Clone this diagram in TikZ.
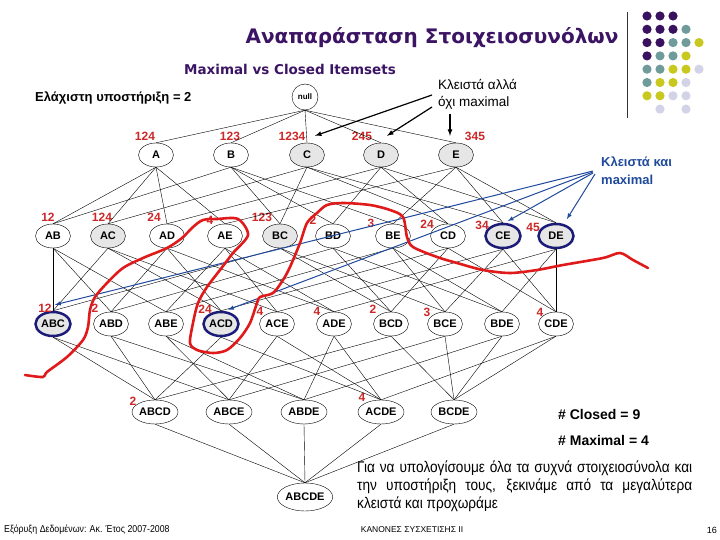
\documentclass[tikz,border=0pt]{standalone}
\usepackage{fontspec}
\setmainfont{Liberation Sans}
\newfontfamily\titlefont{DejaVu Sans}
\newfontfamily\narrowfont[FakeStretch=0.88]{Liberation Sans}
\usetikzlibrary{arrows, shapes.geometric, calc}

\definecolor{titlepurple}{HTML}{3C1464}
\definecolor{tidred}{HTML}{CC2828}
\definecolor{borderred}{HTML}{E01A1A}
\definecolor{maxblue}{HTML}{1C1C78}
\definecolor{noteblue}{HTML}{1F4A9C}
\definecolor{closedgray}{HTML}{E6E6E6}
\definecolor{dotP}{HTML}{3A1160}
\definecolor{dotT}{HTML}{6F9B9B}
\definecolor{dotY}{HTML}{C8C81E}
\definecolor{dotL}{HTML}{D3D3E8}
\definecolor{dotW}{HTML}{FFFFFF}

\begin{document}
\begin{tikzpicture}[
  x=1pt, y=-1pt, > = latex, label distance=2pt,
  set/.style = {draw, ellipse, fill=white, inner sep=0pt, minimum width=35pt, minimum height=24pt,
                font=\bfseries\fontsize{11}{11}\selectfont},
  big/.style = {minimum width=46pt},
  closed/.style = {fill=closedgray},
  maximal/.style = {closed, draw=maxblue, line width=2.5pt},
  tid/.style n args = {3}{label={[text=tidred, inner sep=0pt, xshift=#2, yshift=#3,
                font=\bfseries\fontsize{12}{12}\selectfont]above:#1}},
  note/.style = {inner sep=0pt, anchor=west, align=left},
  pointer/.style = {->, line width=1.2pt},
  bluepointer/.style = {->, noteblue, line width=1pt}
  ]
  \useasboundingbox (0,0) rectangle (720,540);

  % heading and corner dots
  \node[text=titlepurple, font=\titlefont\bfseries\fontsize{20}{20}\selectfont] (title) at (432,38) {Αναπαράσταση Στοιχειοσυνόλων};
  \node[text=titlepurple, font=\titlefont\bfseries\fontsize{13.5}{13.5}\selectfont] (subtitle) at (290,69) {Maximal vs Closed Itemsets};
  \draw[black!80, line width=0.8pt] (627,12) -- (627,118);
  \foreach \row [count=\r from 0] in {{P,P,P},{P,P,P,T},{P,P,T,T,Y},{P,T,T,Y},{T,T,Y,Y,L},{T,Y,Y,L},{Y,Y,L,L},{W,L,W,L}}
    \foreach \c [count=\k from 0] in \row
      \fill[dot\c] (647+13*\k,16+13.3*\r) circle (4.6);

  \node[note, font=\bfseries\fontsize{13}{13}\selectfont] (minsup) at (35,98) {Ελάχιστη υποστήριξη = 2};

  % lattice
  \node[draw, circle, inner sep=0pt, minimum size=26pt, font=\bfseries\fontsize{8}{8}\selectfont] (empty) at (305,97) {null};

  \node[set, tid={124}{-11}{0}] (A) at (156,155) {A};
  \node[set, tid={123}{-1}{0}] (B) at (231,155) {B};
  \node[set, closed, tid={1234}{-15}{0}] (C) at (307,155) {C};
  \node[set, closed, tid={245}{-19}{0}] (D) at (381,155) {D};
  \node[set, closed, tid={345}{19}{0}] (E) at (456,155) {E};

  \node[set, tid={12}{-5}{0}] (AB) at (53,236) {AB};
  \node[set, closed, tid={124}{-6}{0}] (AC) at (108,236) {AC};
  \node[set, tid={24}{-13}{0}] (AD) at (167,236) {AD};
  \node[set, tid={4}{-15}{-3}] (AE) at (225,236) {AE};
  \node[set, closed, tid={123}{-18}{0}] (BC) at (280,236) {BC};
  \node[set, tid={2}{-20}{-3}] (BD) at (333,236) {BD};
  \node[set, tid={3}{-22}{-6}] (BE) at (393,236) {BE};
  \node[set, tid={24}{-21}{-7}] (CD) at (448,236) {CD};
  \node[set, maximal, tid={34}{-21}{-9}] (CE) at (503,236) {CE};
  \node[set, maximal, tid={45}{-23}{-11}] (DE) at (556,236) {DE};

  \node[set, maximal, tid={12}{-8}{-4}] (ABC) at (53,324) {ABC};
  \node[set, tid={2}{-16}{-3}] (ABD) at (111,324) {ABD};
  \node[set] (ABE) at (166,324) {ABE};
  \node[set, maximal, tid={24}{-16}{-5}] (ACD) at (221,324) {ACD};
  \node[set, tid={4}{-17}{-6}] (ACE) at (277,324) {ACE};
  \node[set, tid={4}{-17}{-6}] (ADE) at (334,324) {ADE};
  \node[set, tid={2}{-18}{-4}] (BCD) at (391,324) {BCD};
  \node[set, tid={3}{-18}{-7}] (BCE) at (445,324) {BCE};
  \node[set] (BDE) at (502,324) {BDE};
  \node[set, tid={4}{-16}{-7}] (CDE) at (556,324) {CDE};

  \node[set, big, tid={2}{-22}{-8}] (ABCD) at (155,412) {ABCD};
  \node[set, big] (ABCE) at (229,412) {ABCE};
  \node[set, big] (ABDE) at (304,412) {ABDE};
  \node[set, big, tid={4}{-19}{-4}] (ACDE) at (381,412) {ACDE};
  \node[set, big] (BCDE) at (454,412) {BCDE};

  \node[set, minimum width=48pt, minimum height=28pt] (ABCDE) at (305,497) {ABCDE};

  \foreach \c in {A,B,C,D,E}
    \draw (empty.south) -- (\c.north);
  \foreach \c/\ps in {AB/{A,B}, AC/{A,C}, AD/{A,D}, AE/{A,E}, BC/{B,C}, BD/{B,D}, BE/{B,E}, CD/{C,D}, CE/{C,E}, DE/{D,E},
      ABC/{AB,AC,BC}, ABD/{AB,AD,BD}, ABE/{AB,AE,BE}, ACD/{AC,AD,CD}, ACE/{AC,AE,CE},
      ADE/{AD,AE,DE}, BCD/{BC,BD,CD}, BCE/{BC,BE,CE}, BDE/{BD,BE,DE}, CDE/{CD,CE,DE},
      ABCD/{ABC,ABD,ACD,BCD}, ABCE/{ABC,ABE,ACE,BCE}, ABDE/{ABD,ABE,ADE,BDE},
      ACDE/{ACD,ACE,ADE,CDE}, BCDE/{BCD,BCE,BDE,CDE},
      ABCDE/{ABCD,ABCE,ABDE,ACDE,BCDE}}
    \foreach \p in \ps
      \draw (\p.south) -- (\c.north);

  % notes with pointers
  \node[note, font=\fontsize{13.5}{17}\selectfont] (nonmax) at (438,94) {Κλειστά αλλά\\όχι maximal};
  \draw[pointer] ($(nonmax.west)+(-6,1)$) -- ($(C.north)+(8,-7)$);
  \draw[pointer] ($(nonmax.west)+(-6,13)$) -- ($(D.north)+(6,-7)$);
  \draw[pointer] ($(nonmax.south west)+(12,5)$) -- ($(E.north)+(-6,-7)$);

  \node[note, text=noteblue, font=\bfseries\fontsize{13}{18}\selectfont] (maxnote) at (601,171) {Κλειστά και\\maximal};
  \draw[bluepointer] ($(maxnote.west)+(-8,0)$) -- ($(ABC.north)+(2,-6)$);
  \draw[bluepointer] ($(maxnote.west)+(-8,1)$) -- ($(ACD.60)+(0,-2)$);
  \draw[bluepointer] ($(maxnote.west)+(-8,2)$) -- ($(CE.70)+(0,-2)$);
  \draw[bluepointer] ($(maxnote.west)+(-6,3)$) -- ($(DE.45)+(0,-6)$);

  % frequent itemset border
  \draw[borderred, line width=2.6pt, line cap=round, line join=round] plot[smooth, tension=0.5] coordinates {
    (25,375) (43,377) (47,372) (67,357) (83,340) (88,327) (90,310) (95,297) (107,283) (123,268)
    (143,258) (167,248) (182,238) (193,227) (203,220) (217,219) (238,219) (248,235) (233,253)
    (220,270) (207,287) (198,303) (193,323) (190,343) (197,350) (213,353) (227,350) (240,338)
    (250,323) (257,303) (260,297) (273,293) (283,280) (290,267) (300,243) (307,223) (317,213)
    (327,205) (343,203) (370,205) (390,210) (403,217) (407,237) (413,247) (437,257) (457,263)
    (483,270) (510,273) (537,270) (563,265) (603,258) (620,253) (633,260) (648,268)};

  \node[note, font=\bfseries\fontsize{14}{14}\selectfont] (nclosed) at (558,414) {\# Closed = 9};
  \node[note, font=\bfseries\fontsize{14}{14}\selectfont] (nmax) at (558,440) {\# Maximal = 4};

  \node[inner sep=0pt, anchor=north west, text width=335pt, align=justify,
        font=\narrowfont\fontsize{15.5}{18}\selectfont] (remark) at (357,461)
    {Για να υπολογίσουμε όλα τα συχνά στοιχειοσύνολα και\linebreak την υποστήριξη τους, ξεκινάμε από τα μεγαλύτερα\linebreak κλειστά και προχωράμε};

  % footer
  \node[note, font=\narrowfont\fontsize{10}{10}\selectfont] (course) at (4,530) {Εξόρυξη Δεδομένων: Ακ. Έτος 2007-2008};
  \node[inner sep=0pt, font=\fontsize{8.5}{8.5}\selectfont] (chapter) at (412,530) {ΚΑΝΟΝΕΣ ΣΥΣΧΕΤΙΣΗΣ ΙΙ};
  \node[inner sep=0pt, anchor=east, font=\fontsize{9}{9}\selectfont] (page) at (717,530) {16};
\end{tikzpicture}
\end{document}
